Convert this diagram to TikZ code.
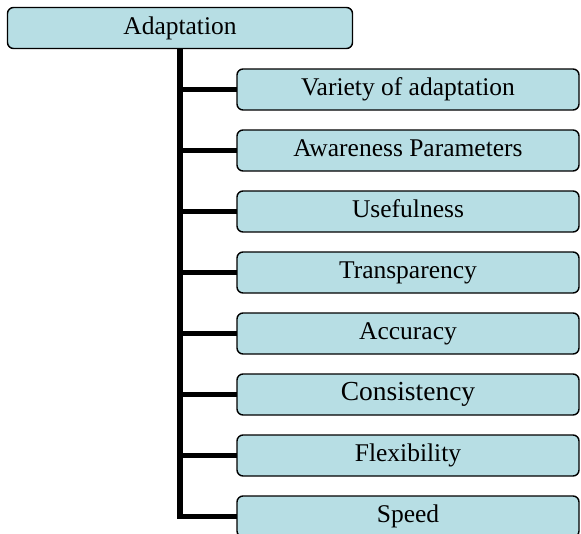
\documentclass[tikz,border=0pt]{standalone}
\usepackage{fontspec}
\setmainfont{Liberation Serif}
\usetikzlibrary{positioning}
\definecolor{boxfill}{RGB}{183,222,228}

\tikzset{
  item/.style={draw, line width=1.4pt, rounded corners=6pt, fill=boxfill,
    minimum width=342pt, minimum height=41pt, inner sep=0pt, outer sep=0pt,
    text height=17.5pt, text depth=5.5pt,
    font=\fontsize{25.5}{30}\selectfont},
  branch/.style={line width=5.5pt}
}

\begin{document}
\begin{tikzpicture}[x=1pt, y=1pt, node distance=20pt]
  \useasboundingbox (0, 0) rectangle (581, -533);
  \clip (0, 0) rectangle (581, -533);
  \pgfmathsetmacro{\xa}{180}
  \pgfmathsetmacro{\ya}{-28}
  \pgfmathsetmacro{\xb}{408}
  \pgfmathsetmacro{\yb}{-89.5}

  \node[item, minimum width=345pt] (adapt) at (\xa, \ya) {Adaptation};
  \node[item] (variety) at (\xb, \yb) {Variety of adaptation};
  \node[item, below=of variety] (aware) {Awareness Parameters};
  \node[item, below=of aware] (useful) {Usefulness};
  \node[item, below=of useful] (transp) {Transparency};
  \node[item, below=of transp] (accur) {Accuracy};
  \node[item, below=of accur, font=\fontsize{27.5}{32}\selectfont] (consist) {Consistency};
  \node[item, below=of consist] (flex) {Flexibility};
  \node[item, below=of flex] (speed) {Speed};

  \draw[branch] (adapt.south) |- (speed.west);
  \draw[branch] (adapt.south |- variety.west) -- (variety.west);
  \draw[branch] (adapt.south |- aware.west) -- (aware.west);
  \draw[branch] (adapt.south |- useful.west) -- (useful.west);
  \draw[branch] (adapt.south |- transp.west) -- (transp.west);
  \draw[branch] (adapt.south |- accur.west) -- (accur.west);
  \draw[branch] (adapt.south |- consist.west) -- (consist.west);
  \draw[branch] (adapt.south |- flex.west) -- (flex.west);
\end{tikzpicture}
\end{document}
